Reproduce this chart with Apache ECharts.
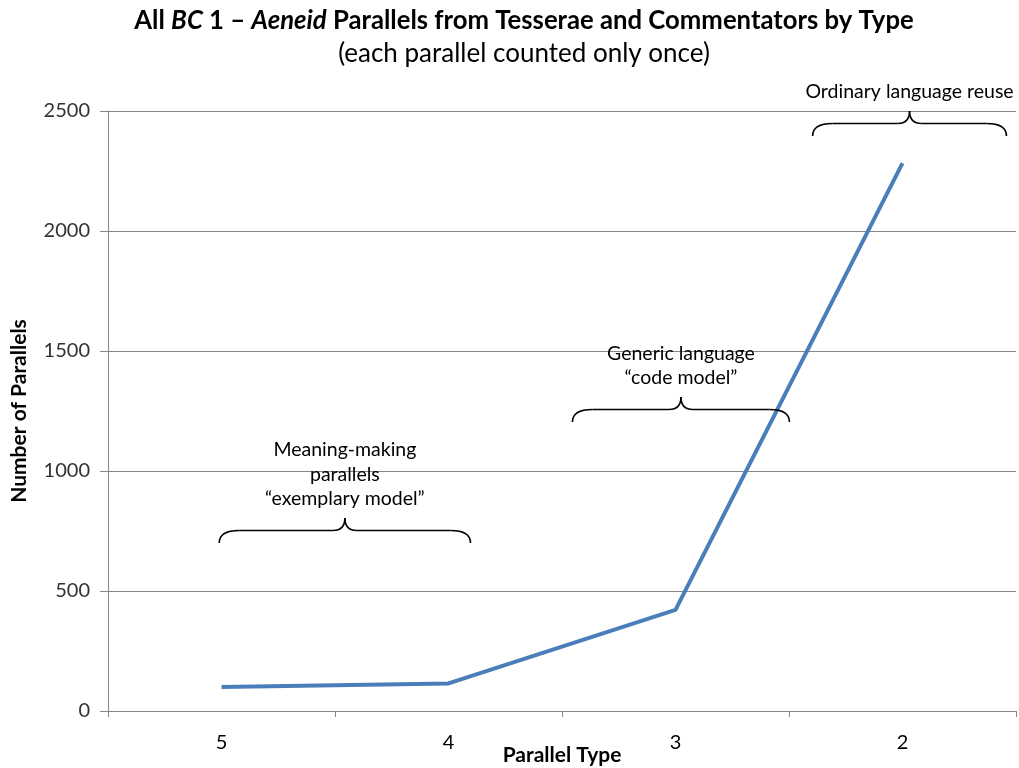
<!DOCTYPE html>
<html>
<head>
<meta charset="utf-8">
<script src="https://cdn.jsdelivr.net/npm/echarts@6/dist/echarts.min.js"></script>
<style>
  html, body { margin: 0; padding: 0; background: #fff; }
  #chart { width: 1019px; height: 768px; }
</style>
</head>
<body>
<div id="chart"></div>
<script>
// Parallel types, ordered from meaning-making (5) to ordinary reuse (2)
const parallelTypes = ['5', '4', '3', '2'];
// Number of parallels for each type
const parallelCounts = [100, 115, 421, 2283];
// Value axis ticks
const yTicks = [0, 500, 1000, 1500, 2000, 2500];

// Brace annotations: category span (in category index units) and the value level of the brace tips
const groupLabels = [
  'Meaning-making\nparallels\n\u201cexemplary model\u201d',
  'Generic language\n\u201ccode model\u201d',
  'Ordinary language reuse'
];
const groupSpans = [[-0.01, 1.097], [1.546, 2.502], [2.604, 3.458]];
const groupLevels = [700, 1204, 2396];

const FONT = 'Lato, "Open Sans", sans-serif';
const chart = echarts.init(document.getElementById('chart'));

chart.setOption({
  backgroundColor: '#ffffff',
  animation: false,
  title: {
    left: 519,
    textAlign: 'center',
    top: 3,
    itemGap: 7,
    text: '{b|All }{bi|BC}{b| 1 \u2013 }{bi|Aeneid}{b| Parallels from Tesserae and Commentators by Type}',
    subtext: '(each parallel counted only once)',
    textStyle: {
      rich: {
        b: { fontFamily: FONT, fontSize: 25.7, fontWeight: 'bold', color: '#000' },
        bi: { fontFamily: FONT, fontSize: 25.7, fontWeight: 'bold', fontStyle: 'italic', color: '#000' }
      }
    },
    subtextStyle: { fontFamily: FONT, fontSize: 26, color: '#000' }
  },
  grid: { left: 108, right: 3, top: 111, bottom: 57, outerBoundsMode: 'none', containLabel: false },
  xAxis: {
    type: 'category',
    data: parallelTypes,
    boundaryGap: true,
    name: 'Parallel Type',
    nameLocation: 'middle',
    nameGap: 34,
    nameMoveOverlap: false,
    nameTextStyle: { fontFamily: FONT, fontSize: 21, fontWeight: 'bold', color: '#000' },
    axisLine: { lineStyle: { color: '#868686', width: 1 } },
    axisTick: { show: true, length: 6, lineStyle: { color: '#868686' } },
    axisLabel: { fontFamily: FONT, fontSize: 20, color: '#000', margin: 22 }
  },
  yAxis: {
    type: 'value',
    min: yTicks[0],
    max: yTicks[yTicks.length - 1],
    interval: yTicks[1] - yTicks[0],
    name: 'Number of Parallels',
    nameLocation: 'middle',
    nameGap: 78,
    nameMoveOverlap: false,
    nameRotate: 90,
    nameTextStyle: { fontFamily: FONT, fontSize: 21, fontWeight: 'bold', color: '#000' },
    axisLine: { show: true, lineStyle: { color: '#868686', width: 1 } },
    axisTick: { show: true, length: 8, lineStyle: { color: '#868686' } },
    axisLabel: { fontFamily: FONT, fontSize: 20, color: '#333', margin: 18, formatter: function (v) { return String(v); } },
    splitLine: { lineStyle: { color: '#868686', width: 1 } }
  },
  series: [{
    type: 'line',
    data: parallelCounts,
    symbol: 'none',
    lineStyle: { color: '#4A7EBB', width: 4 }
  }]
});

// Curly brace built from quadratic curves and straight segments
function braceParts(x0, x1, yEnd, h) {
  const xc = (x0 + x1) / 2;
  const yH = yEnd - h * 0.5;
  const yP = yEnd - h;
  const r = Math.min(20, (x1 - x0) / 6);
  const style = { fill: 'none', stroke: '#000', lineWidth: 1.6 };
  const curve = function (ax, ay, bx, by, cx, cy) {
    return { type: 'bezierCurve', shape: { x1: ax, y1: ay, x2: bx, y2: by, cpx1: cx, cpy1: cy }, style: style, z: 10 };
  };
  const seg = function (ax, ay, bx, by) {
    return { type: 'line', shape: { x1: ax, y1: ay, x2: bx, y2: by }, style: style, z: 10 };
  };
  return [
    curve(x0, yEnd, x0 + r, yH, x0, yH),
    seg(x0 + r, yH, xc - 12, yH),
    curve(xc - 12, yH, xc, yP, xc, yH),
    curve(xc, yP, xc + 12, yH, xc, yH),
    seg(xc + 12, yH, x1 - r, yH),
    curve(x1 - r, yH, x1, yEnd, x1, yH)
  ];
}

// Category positions in between ticks are interpolated from two neighbouring category centres
const c0 = chart.convertToPixel({ gridIndex: 0 }, [0, 0]);
const c1 = chart.convertToPixel({ gridIndex: 0 }, [1, 0]);
const band = c1[0] - c0[0];
function catX(idx) { return c0[0] + idx * band; }
function valY(v) { return chart.convertToPixel({ gridIndex: 0 }, [0, v])[1]; }

const elements = [];
groupLabels.forEach(function (label, i) {
  const x0 = catX(groupSpans[i][0]);
  const x1 = catX(groupSpans[i][1]);
  const y = valY(groupLevels[i]);
  const h = 25;
  braceParts(x0, x1, y, h).forEach(function (el) { elements.push(el); });
  elements.push({
    type: 'text',
    x: (x0 + x1) / 2,
    y: y - h - 7,
    style: {
      text: label,
      fontFamily: FONT,
      fontSize: 19.5,
      lineHeight: 24.5,
      fill: '#000',
      align: 'center',
      verticalAlign: 'bottom'
    },
    z: 10
  });
});
chart.setOption({ graphic: elements });
</script>
</body>
</html>
